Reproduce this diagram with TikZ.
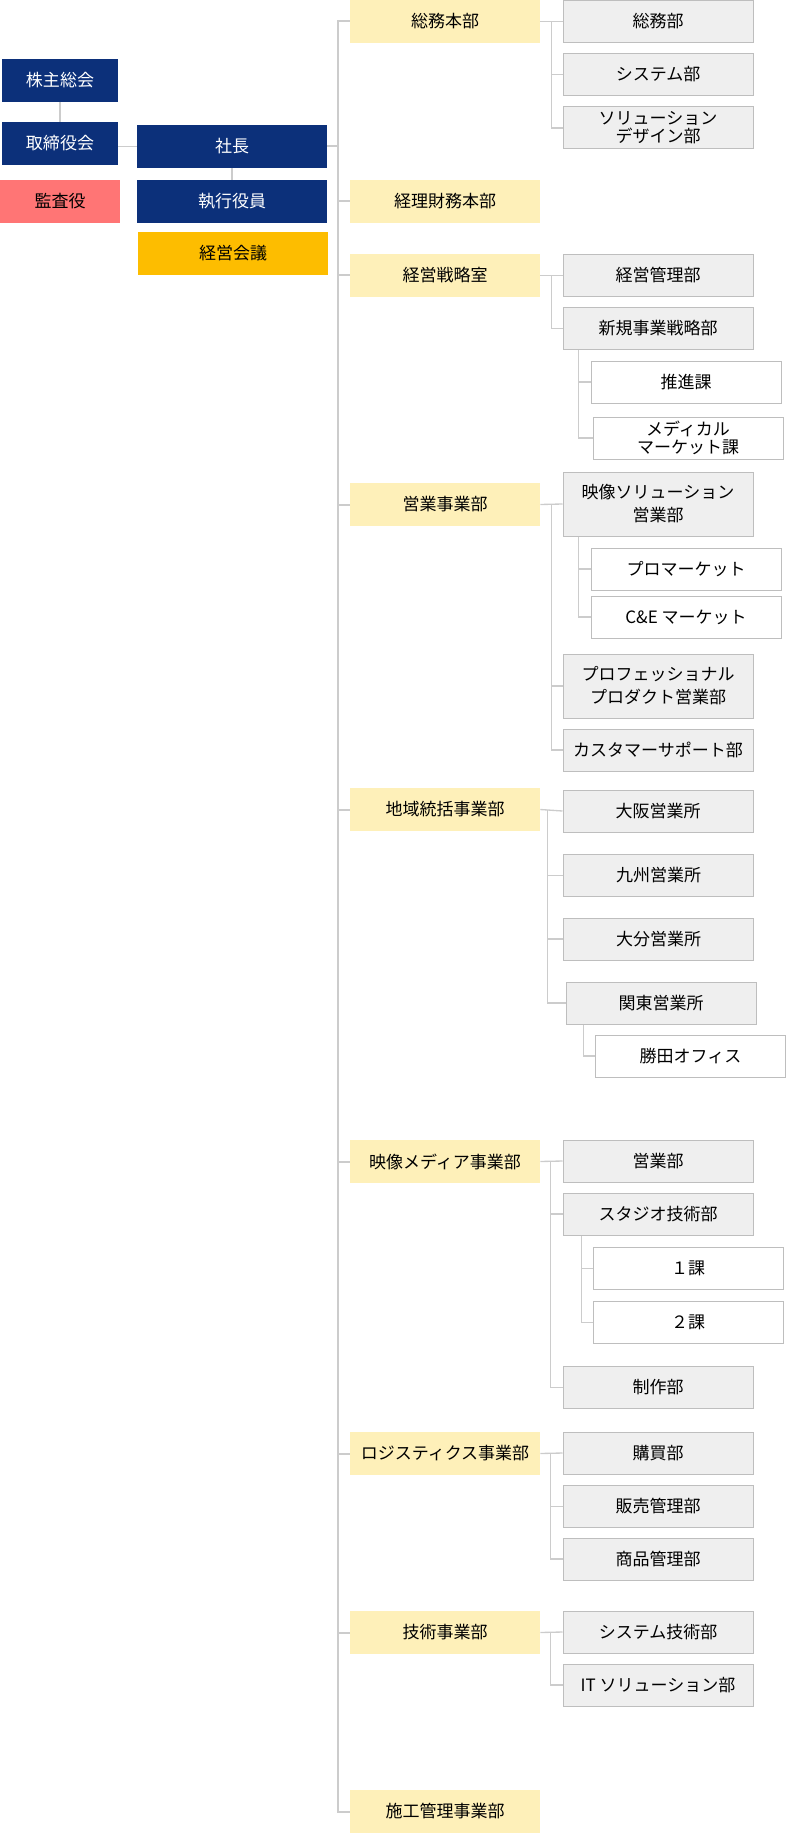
\documentclass[tikz,border=0pt]{standalone}
\usepackage{fontspec}
\setmainfont{Noto Sans CJK JP}
\usepackage{xcolor}
\definecolor{navy}{RGB}{12,48,122}
\definecolor{salmon}{RGB}{255,117,117}
\definecolor{gold}{RGB}{253,189,0}
\definecolor{cream}{RGB}{254,240,185}
\definecolor{boxgray}{RGB}{239,239,239}
\definecolor{edgegray}{RGB}{190,190,190}
\definecolor{linegray}{RGB}{204,204,204}

\begin{document}
\begin{tikzpicture}[x=0.75pt, y=-0.75pt,
		base/.style={inner sep=0pt, align=center, minimum width=142.5pt, minimum height=32.25pt, font=\fontsize{12.75pt}{14pt}\selectfont},
		exec/.style={base, fill=navy, text=white},
		audit/.style={base, fill=salmon, minimum width=90pt},
		council/.style={base, fill=gold},
		division/.style={base, fill=cream},
		dept/.style={base, draw=edgegray, line width=0.75pt, fill=boxgray, minimum height=31.5pt},
		section/.style={base, draw=edgegray, line width=0.75pt, fill=white, minimum height=31.5pt},
		tall/.style={minimum height=48pt, font=\fontsize{12.75pt}{17.25pt}\selectfont},
		trunk/.style={draw=linegray, line width=1.5pt},
		sub/.style={draw=linegray, line width=1pt}]
	\useasboundingbox (0,0) rectangle (786,1833);

	% top management
	\node (kabunushi) [exec, minimum width=87pt] at (60,80.5) {株主総会};
	\node (torishimari) [exec, minimum width=87pt] at (60,143.5) {取締役会};
	\node (kansa) [audit] at (60,201.5) {監査役};
	\node (shacho) [exec] at (232,146.5) {社長};
	\node (shikko) [exec] at (232,201.5) {執行役員};
	\node (kaigi) [council] at (233,253.5) {経営会議};

	\draw [trunk] (kabunushi) -- (torishimari);
	\draw [sub] (torishimari.east |- shacho.west) -- (shacho.west);
	\draw [sub] (shacho) -- (shikko);

	% divisions
	\node (d1) [division] at (445,21.5) {総務本部};
	\node (d2) [division] at (445,201.5) {経理財務本部};
	\node (d3) [division] at (445,275.5) {経営戦略室};
	\node (d4) [division] at (445,504.5) {営業事業部};
	\node (d5) [division] at (445,809.5) {地域統括事業部};
	\node (d6) [division] at (445,1161.5) {映像メディア事業部};
	\node (d7) [division] at (445,1453.5) {ロジスティクス事業部};
	\node (d8) [division] at (445,1632.5) {技術事業部};
	\node (d9) [division] at (445,1811.5) {施工管理事業部};

	\coordinate (root) at (338,146.5);
	\draw [trunk] (shacho.east) -- (root);
	\foreach \d in {d1,d2,d3,d4,d5,d6,d7,d8,d9}
		\draw [trunk] (root) |- (\d.west);

	% 総務本部
	\node (c11) [dept] at (658,21.5) {総務部};
	\node (c12) [dept] at (658,74.5) {システム部};
	\node (c13) [dept, font=\fontsize{12.75pt}{13.5pt}\selectfont] at (658,128) {ソリューション\\デザイン部};
	\coordinate (j1) at ([xshift=8.25pt]d1.east);
	\draw [sub] (d1.east) -- (c11.west);
	\foreach \c in {c12,c13}
		\draw [sub] (j1) |- (\c.west);

	% 経営戦略室
	\node (c31) [dept] at (658,275.5) {経営管理部};
	\node (c32) [dept] at (658,328.5) {新規事業戦略部};
	\node (s31) [section] at (686,382) {推進課};
	\node (s32) [section, font=\fontsize{12.75pt}{13.5pt}\selectfont] at (688,438) {メディカル\\マーケット課};
	\coordinate (j3) at ([xshift=8.25pt]d3.east);
	\draw [sub] (d3.east) -- (c31.west);
	\draw [sub] (j3) |- (c32.west);
	\coordinate (k3) at ([xshift=12pt]c32.south west);
	\foreach \s in {s31,s32}
		\draw [sub] (k3) |- (\s.west);

	% 営業事業部
	\node (c41) [dept, tall] at (658,504) {映像ソリューション\\営業部};
	\node (s41) [section] at (686,569) {プロマーケット};
	\node (s42) [section] at (686,617) {C\&E マーケット};
	\node (c42) [dept, tall] at (658,686) {プロフェッショナル\\プロダクト営業部};
	\node (c43) [dept] at (658,750) {カスタマーサポート部};
	\coordinate (j4) at ([xshift=8.25pt]d4.east);
	\draw [sub] (d4.east) -- (c41.west);
	\foreach \c in {c42,c43}
		\draw [sub] (j4) |- (\c.west);
	\coordinate (k4) at ([xshift=12pt]c41.south west);
	\foreach \s in {s41,s42}
		\draw [sub] (k4) |- (\s.west);

	% 地域統括事業部
	\node (c51) [dept] at (658,811) {大阪営業所};
	\node (c52) [dept] at (658.5,875.5) {九州営業所};
	\node (c53) [dept] at (658.5,939) {大分営業所};
	\node (c54) [dept] at (661,1003) {関東営業所};
	\node (s51) [section] at (690.5,1056) {勝田オフィス};
	\coordinate (j5) at ([xshift=5.25pt]d5.east);
	\draw [sub] (d5.east) -- (c51.west);
	\foreach \c in {c52,c53,c54}
		\draw [sub] (j5) |- (\c.west);
	\coordinate (k5) at ([xshift=13.5pt]c54.south west);
	\draw [sub] (k5) |- (s51.west);

	% 映像メディア事業部
	\node (c61) [dept] at (658,1161) {営業部};
	\node (c62) [dept] at (658,1214) {スタジオ技術部};
	\node (s61) [section] at (688,1268.5) {１課};
	\node (s62) [section] at (688,1322.5) {２課};
	\node (c63) [dept] at (658,1387.5) {制作部};
	\coordinate (j6) at ([xshift=7.5pt]d6.east);
	\draw [sub] (d6.east) -- (c61.west);
	\foreach \c in {c62,c63}
		\draw [sub] (j6) |- (\c.west);
	\coordinate (k6) at ([xshift=14.25pt]c62.south west);
	\foreach \s in {s61,s62}
		\draw [sub] (k6) |- (\s.west);

	% ロジスティクス事業部
	\node (c71) [dept] at (658,1453) {購買部};
	\node (c72) [dept] at (658,1506.5) {販売管理部};
	\node (c73) [dept] at (658,1559) {商品管理部};
	\coordinate (j7) at ([xshift=7.5pt]d7.east);
	\draw [sub] (d7.east) -- (c71.west);
	\foreach \c in {c72,c73}
		\draw [sub] (j7) |- (\c.west);

	% 技術事業部
	\node (c81) [dept] at (658,1632) {システム技術部};
	\node (c82) [dept] at (658,1685) {IT ソリューション部};
	\coordinate (j8) at ([xshift=7.5pt]d8.east);
	\draw [sub] (d8.east) -- (c81.west);
	\draw [sub] (j8) |- (c82.west);
\end{tikzpicture}
\end{document}
